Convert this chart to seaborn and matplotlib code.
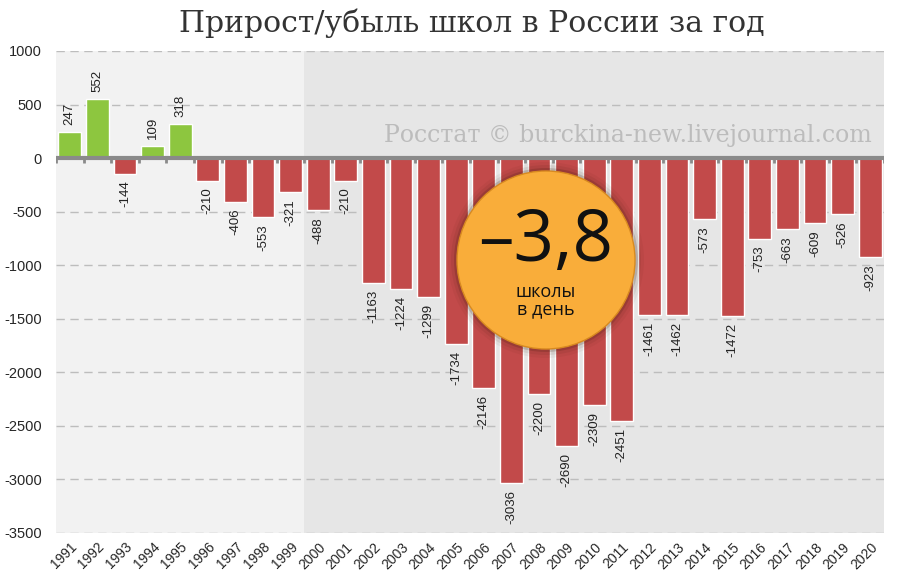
import matplotlib
matplotlib.use("Agg")
import matplotlib.pyplot as plt
from matplotlib.patches import Ellipse
import seaborn as sns
import pandas as pd

years = [str(y) for y in range(1991, 2021)]
values = [247, 552, -144, 109, 318, -210, -406, -553, -321, -488, -210, -1163, -1224,
          -1299, -1734, -2146, -3036, -2200, -2690, -2309, -2451, -1461, -1462, -573,
          -1472, -753, -663, -609, -526, -923]
yticks = list(range(-3500, 1001, 500))
title = "Прирост/убыль школ в России за год"
watermark = "Росстат © burckina-new.livejournal.com"
badge_big = "–3,8"
badge_small = "школы\nв день"

sns.set_theme(style="white")
plt.rcParams['font.family'] = ['Liberation Sans', 'DejaVu Sans']

df = pd.DataFrame({"year": years, "value": values})
df["sign"] = ["pos" if v >= 0 else "neg" for v in values]

fig = plt.figure(figsize=(9, 5.86), dpi=100)
ax = fig.add_axes([56/900, 1-533/586, (884-56)/900, (533-51)/586])
ax.set_facecolor("#f2f2f2")
ax.axvspan(8.5, len(years)-0.5, color="#e6e6e6", zorder=0, lw=0)

for t in yticks:
    ax.axhline(t, color="#bdbdbd", lw=1, ls=(0, (6, 4)), zorder=0.5)

sns.barplot(data=df, x="year", y="value", hue="sign",
            palette={"pos": "#8dc63f", "neg": "#c24a4a"}, width=0.83,
            dodge=False, legend=False, ax=ax, zorder=2, saturation=1)

ax.axhline(0, color="#8a8a8a", lw=3, zorder=3)
ax.vlines([i - 0.5 for i in range(len(years)+1)], -45, 0, color="#8a8a8a", lw=2, zorder=3)

for i, v in enumerate(values):
    if v >= 0:
        ax.annotate(str(v), (i, v), xytext=(0, 5), textcoords="offset points",
                    rotation=90, ha="center", va="bottom", fontsize=9.5, color="#222222", zorder=4)
    else:
        ax.annotate(str(v), (i, v), xytext=(0, -5), textcoords="offset points",
                    rotation=90, ha="center", va="top", fontsize=9.5, color="#222222", zorder=4)

ax.set_xlim(-0.5, len(years)-0.5)
ax.set_ylim(-3500, 1000)
ax.set_yticks(yticks)
ax.set_yticklabels([str(t) for t in yticks], fontsize=10.5)
ax.set_xticks(range(len(years)))
ax.set_xticklabels(years, rotation=45, ha="right", rotation_mode="anchor", fontsize=10)
ax.tick_params(axis="x", length=0, pad=5)
ax.tick_params(axis="y", length=0, pad=10)
ax.set_xlabel("")
ax.set_ylabel("")
for s in ax.spines.values():
    s.set_visible(False)

fig.text(0.524, 1-23/586, title, ha="center", va="center", fontsize=21.5,
         family=["DejaVu Serif"], color="#333333")
ax.text(0.985, 0.825, watermark, transform=ax.transAxes, ha="right", va="center",
        fontsize=17, family=["DejaVu Serif"], color="#bcbcbc", zorder=3)

cx, cy, r = 546/900, 1-260/586, 89
for k, a in [(9, 0.05), (6, 0.08), (3, 0.18)]:
    fig.add_artist(Ellipse((cx, cy), 2*(r+k)/900, 2*(r+k)/586, transform=fig.transFigure,
                           color="#3a1a08", alpha=a, lw=0, zorder=5))
fig.add_artist(Ellipse((cx, cy), 2*r/900, 2*r/586, transform=fig.transFigure,
                       facecolor="#f9ad3a", edgecolor="#d88a20", lw=1, zorder=6))
fig.text(cx, 1-242/586, badge_big, ha="center", va="center", fontsize=51,
         family=["Open Sans", "DejaVu Sans"], color="#111111", zorder=7)
fig.text(cx, 1-301/586, badge_small, ha="center", va="center", fontsize=13,
         family=["Open Sans", "DejaVu Sans"], color="#111111", zorder=7, linespacing=0.95)

fig.savefig("out.png", dpi=100, facecolor="white")
